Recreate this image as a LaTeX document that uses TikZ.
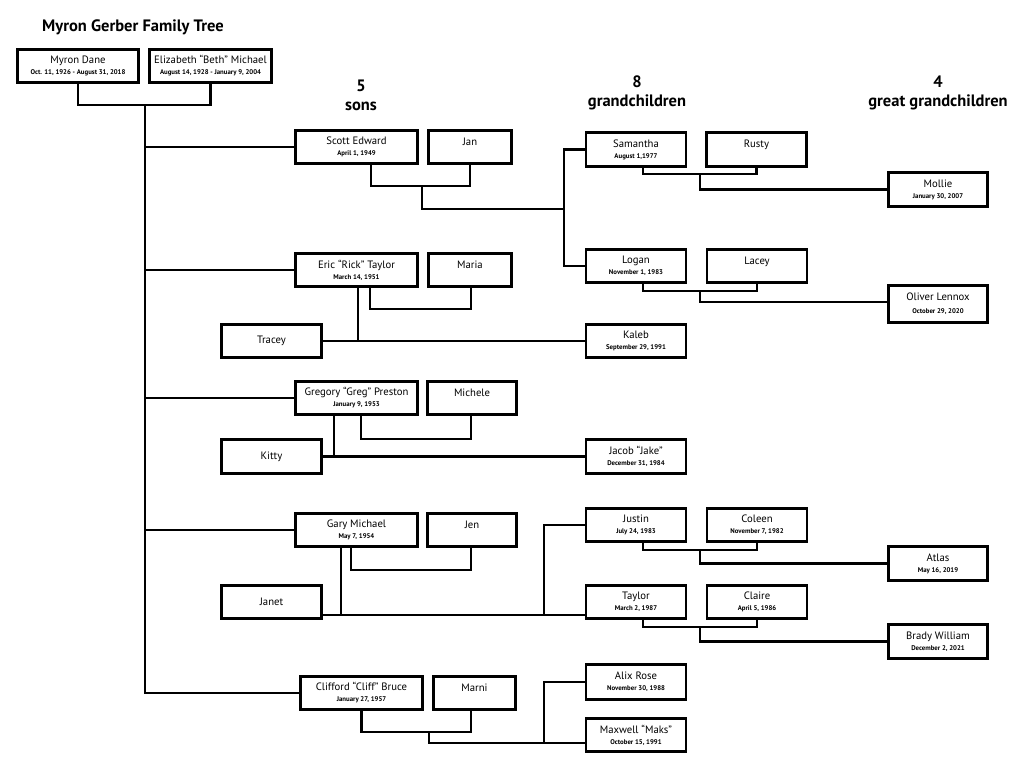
\documentclass[tikz,border=0pt]{standalone}
\usepackage{fontspec}
\setmainfont{PT Sans}
\usetikzlibrary{calc}
\newcommand\namefont{\fontsize{10.7}{11}\selectfont}
\newcommand\datefont{\fontsize{6.8}{8}\selectfont\bfseries}
\newcommand\nd[2]{#1\\{\datefont #2}}
\newcommand\nm[1]{#1\\{\datefont\phantom{0}}}
\tikzset{
  pbox/.style={draw, line width=2.7pt, inner sep=0pt, align=center,
    minimum height=33.5pt, font=\namefont},
  sonbox/.style={pbox, minimum width=122pt},
  grbox/.style={pbox, minimum width=100pt},
  conn/.style={line width=2.7pt},
  heading/.style={font=\fontsize{16.5}{19}\selectfont\bfseries, align=center}
}
\begin{document}
\begin{tikzpicture}[x=1pt, y=-1pt]
\useasboundingbox (0,0) rectangle (1024,763);
% headings
\node[font=\fontsize{16.5}{18}\selectfont\bfseries] (title) at (133,27) {Myron Gerber Family Tree};
\node[heading] (hsons) at (361,95) {5\\sons};
\node[heading] (hgrand) at (637,93) {8\\grandchildren};
\node[heading] (hgreat) at (938,93) {4\\great grandchildren};
% parents
\node[pbox, minimum width=121.5pt] (myron) at (78,66) {\nd{Myron Dane}{Oct. 11, 1926 - August 31, 2018}};
\node[pbox, minimum width=122.5pt] (eliz) at (210.5,66) {\nd{Elizabeth “Beth” Michael}{August 14, 1928 - January 9, 2004}};
% sons and spouses
\node[sonbox] (scott) at (356.5,147) {\nd{Scott Edward}{April 1, 1949}};
\node[pbox, minimum width=83.5pt] (jan) at (470,147) {\nm{Jan}};
\node[sonbox] (eric) at (356.5,270) {\nd{Eric “Rick” Taylor}{March 14, 1951}};
\node[pbox, minimum width=83.5pt] (maria) at (470,270) {\nm{Maria}};
\node[grbox] (tracey) at (271.5,341) {Tracey};
\node[sonbox] (greg) at (356.5,398) {\nd{Gregory “Greg” Preston}{January 9, 1953}};
\node[pbox, minimum width=89.5pt] (michele) at (472,398) {\nm{Michele}};
\node[grbox] (kitty) at (271.5,456.5) {Kitty};
\node[sonbox] (gary) at (356.5,530) {\nd{Gary Michael}{May 7, 1954}};
\node[pbox, minimum width=89.5pt] (jen) at (472,530) {\nm{Jen}};
\node[grbox] (janet) at (271.5,602) {Janet};
\node[sonbox] (cliff) at (361.5,693) {\nd{Clifford “Cliff” Bruce}{January 27, 1957}};
\node[pbox, minimum width=82.5pt] (marni) at (474.5,693) {\nm{Marni}};
% grandchildren
\node[grbox] (samantha) at (636,149.5) {\nd{Samantha}{August 1,1977}};
\node[grbox] (rusty) at (756.5,149.5) {\nm{Rusty}};
\node[grbox] (logan) at (636,266) {\nd{Logan}{November 1, 1983}};
\node[grbox] (lacey) at (757,266) {\nm{Lacey}};
\node[grbox] (kaleb) at (636,341) {\nd{Kaleb}{September 29, 1991}};
\node[grbox] (jake) at (636,456.5) {\nd{Jacob “Jake”}{December 31, 1984}};
\node[grbox] (justin) at (636,525) {\nd{Justin}{July 24, 1983}};
\node[grbox] (coleen) at (757,525) {\nd{Coleen}{November 7, 1982}};
\node[grbox] (taylor) at (636,602) {\nd{Taylor}{March 2, 1987}};
\node[grbox] (claire) at (757,602) {\nd{Claire}{April 5, 1986}};
\node[grbox, minimum height=35.5pt] (alix) at (636,682) {\nd{Alix Rose}{November 30, 1988}};
\node[grbox] (maxwell) at (636,735) {\nd{Maxwell “Maks”}{October 15, 1991}};
% great grandchildren
\node[pbox, minimum width=99.5pt, minimum height=34.5pt] (mollie) at (938,189.5) {\nd{Mollie}{January 30, 2007}};
\node[pbox, minimum width=99.5pt, minimum height=37.5pt] (oliver) at (938,304) {Oliver Lennox\\[2pt]{\datefont October 29, 2020}};
\node[pbox, minimum width=99.5pt, minimum height=34.5pt] (atlas) at (938,563.5) {\nd{Atlas}{May 16, 2019}};
\node[pbox, minimum width=99.5pt, minimum height=34.5pt] (brady) at (938,641.5) {\nd{Brady William}{December 2, 2021}};
% junction coordinates
\coordinate (pj) at (145,105);
\coordinate (sj) at (422,186);
\coordinate (sg) at (564,209);
\coordinate (srj) at (700,174);
\coordinate (llj) at (700,291);
\coordinate (jcj) at (700,550);
\coordinate (tcj) at (700,627);
\coordinate (gj) at (544,615);
\coordinate (cmj) at (429,732);
\coordinate (cj) at (544,743);
% connectors: parents and trunk
\draw[conn] (myron.south) |- (pj) -| (eliz.south);
\draw[conn] (pj) |- (cliff.west);
\draw[conn] (pj |- scott.west) -- (scott.west);
\draw[conn] (pj |- eric.west) -- (eric.west);
\draw[conn] (pj |- greg.west) -- (greg.west);
\draw[conn] (pj |- gary.west) -- (gary.west);
% Scott
\draw[conn] ([xshift=14.5pt]scott.south) |- (sj) -| (jan.south);
\draw[conn] (sj) |- (sg);
\draw[conn] (samantha.west) -| (sg) |- (logan.west);
\draw[conn] ([xshift=7pt]samantha.south) |- (srj) -| (rusty.south);
\draw[conn] (srj) |- (mollie.west);
\draw[conn] ([xshift=7pt]logan.south) |- (llj) -| (lacey.south);
\draw[conn] (llj) |- ([yshift=2pt]oliver.west);
% Eric
\draw[conn] ([xshift=13.5pt]eric.south) -- ++(0,21) -| ([xshift=1pt]maria.south);
\draw[conn] (tracey.east) -- (kaleb.west);
\draw[conn] ([xshift=1.5pt]eric.south) -- ([xshift=1.5pt]eric.south |- tracey.east);
% Greg
\draw[conn] ([xshift=4.5pt]greg.south) -- ++(0,23) -| ([xshift=-1pt]michele.south);
\draw[conn] (kitty.east) -- (jake.west);
\draw[conn] ([xshift=-22.5pt]greg.south) -- ([xshift=-22.5pt]greg.south |- kitty.east);
% Gary
\draw[conn] ([xshift=-5.5pt]gary.south) -- ++(0,22) -| ([xshift=-1pt]jen.south);
\draw[conn] ([yshift=-13pt]janet.east) -- ([yshift=-13pt]taylor.west);
\draw[conn] ([xshift=-15.5pt]gary.south) -- ([xshift=-15.5pt]gary.south |- gj);
\draw[conn] (justin.west) -| (gj);
\draw[conn] ([xshift=7pt]justin.south) |- (jcj) -| (coleen.south);
\draw[conn] (jcj) |- (atlas.west);
\draw[conn] ([xshift=7pt]taylor.south) |- (tcj) -| (claire.south);
\draw[conn] (tcj) |- (brady.west);
% Cliff
\draw[conn] (cliff.south) |- (cmj) -| ([xshift=-3.5pt]marni.south);
\draw[conn] (cmj) |- ([yshift=-8pt]maxwell.west);
\draw[conn] (alix.west) -| (cj);
\end{tikzpicture}
\end{document}
